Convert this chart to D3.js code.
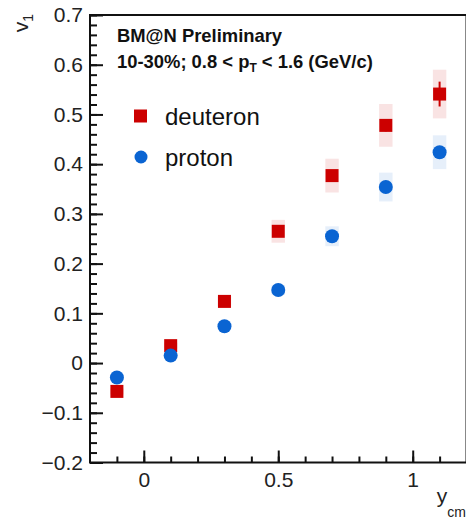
<!DOCTYPE html>
<html>
<head>
<meta charset="utf-8">
<script src="https://cdn.jsdelivr.net/npm/d3@7"></script>
<style>
  body { margin: 0; background: #fff; }
  svg { display: block; font-family: "Liberation Sans", Arial, Helvetica, sans-serif; }
</style>
</head>
<body>
<svg id="chart" width="466" height="521"></svg>
<script>
// rapidity bins
const ycm = [-0.1, 0.1, 0.3, 0.5, 0.7, 0.9, 1.1];

// deuteron v1
const deuteronV1   = [-0.057, 0.035, 0.124, 0.265, 0.377, 0.478, 0.541];
const deuteronStat = [0.004, 0.004, 0.005, 0.006, 0.01, 0.012, 0.025];
const deuteronSys  = [0.006, 0.006, 0.01, 0.023, 0.034, 0.043, 0.049];

// proton v1
const protonV1   = [-0.029, 0.015, 0.074, 0.147, 0.255, 0.354, 0.424];
const protonStat = [0.003, 0.003, 0.003, 0.003, 0.004, 0.005, 0.006];
const protonSys  = [0.004, 0.004, 0.006, 0.01, 0.02, 0.029, 0.034];

const xMajor = [0, 0.5, 1];
const yMajor = [-0.2, -0.1, 0, 0.1, 0.2, 0.3, 0.4, 0.5, 0.6, 0.7];

const red = "#cc0000", blue = "#0a64d2";

const svg = d3.select("#chart");
const margin = {top: 15, right: 0, bottom: 58.5, left: 90};
const W = 466, H = 521;

const x = d3.scaleLinear().domain([-0.2, 1.2]).range([margin.left, W - margin.right + 0.5]);
const y = d3.scaleLinear().domain([-0.2, 0.7]).range([H - margin.bottom, margin.top]);

// points with stat bars and systematic boxes
function series(vals, stat, sys, color, boxColor, shape) {
  const g = svg.append("g");
  const data = ycm.map((d, i) => ({x: d, v: vals[i], st: stat[i], sy: sys[i]}));
  g.selectAll("rect.sys").data(data).enter().append("rect")
    .attr("class", "sys")
    .attr("x", d => x(d.x - 0.025))
    .attr("width", d => x(d.x + 0.025) - x(d.x - 0.025))
    .attr("y", d => y(d.v + d.sy))
    .attr("height", d => y(d.v - d.sy) - y(d.v + d.sy))
    .attr("fill", boxColor);
  g.selectAll("line.stat").data(data).enter().append("line")
    .attr("x1", d => x(d.x)).attr("x2", d => x(d.x))
    .attr("y1", d => y(d.v + d.st)).attr("y2", d => y(d.v - d.st))
    .attr("stroke", color).attr("stroke-width", 2);
  if (shape === "square") {
    g.selectAll("rect.pt").data(data).enter().append("rect")
      .attr("x", d => x(d.x) - 6.5).attr("y", d => y(d.v) - 6.5)
      .attr("width", 13).attr("height", 13).attr("fill", color);
  } else {
    g.selectAll("circle").data(data).enter().append("circle")
      .attr("cx", d => x(d.x)).attr("cy", d => y(d.v)).attr("r", 7)
      .attr("fill", color);
  }
}
series(deuteronV1, deuteronStat, deuteronSys, red, "rgba(204,0,0,0.11)", "square");
series(protonV1, protonStat, protonSys, blue, "rgba(10,100,210,0.10)", "circle");

// frame
svg.append("rect")
  .attr("x", margin.left).attr("y", margin.top)
  .attr("width", x.range()[1] - margin.left)
  .attr("height", y.range()[0] - margin.top)
  .attr("fill", "none").attr("stroke", "#111").attr("stroke-width", 2);

// y axis
const yAxis = svg.append("g").attr("transform", `translate(${margin.left},0)`);
yAxis.call(d3.axisLeft(y).tickValues(d3.range(-0.2, 0.7001, 0.02)).tickSize(-7).tickFormat(""));
yAxis.append("g").call(d3.axisLeft(y).tickValues(yMajor).tickSize(-13).tickPadding(7).tickFormat(d3.format(".1~f")));
yAxis.selectAll(".domain").remove();
yAxis.selectAll("line").attr("stroke", "#111").attr("stroke-width", 2);
yAxis.selectAll("text").attr("font-size", 21).attr("fill", "#222");

// x axis
const xAxis = svg.append("g").attr("transform", `translate(0,${y.range()[0]})`);
xAxis.call(d3.axisBottom(x).tickValues(d3.range(-0.1, 1.2, 0.1)).tickSize(-6).tickFormat(""));
xAxis.append("g").call(d3.axisBottom(x).tickValues(xMajor).tickSize(-12).tickPadding(10).tickFormat(d3.format("~g")));
xAxis.selectAll(".domain").remove();
xAxis.selectAll("line").attr("stroke", "#111").attr("stroke-width", 2);
xAxis.selectAll("text").attr("font-size", 21).attr("fill", "#222");

// axis titles
const yt = svg.append("text")
  .attr("transform", "translate(28,14) rotate(-90)")
  .attr("text-anchor", "end").attr("font-size", 21).attr("fill", "#222");
yt.append("tspan").text("v");
yt.append("tspan").attr("font-size", 14).attr("dy", 5).text("1");

const xt = svg.append("text")
  .attr("x", 466).attr("y", 503)
  .attr("text-anchor", "end").attr("font-size", 21).attr("fill", "#222");
xt.append("tspan").text("y");
xt.append("tspan").attr("font-size", 14).attr("dy", 14).text("cm");

// labels
svg.append("text").attr("x", 117).attr("y", 42)
  .attr("font-size", 18.4).attr("font-weight", "bold").attr("fill", "#111")
  .text("BM@N Preliminary");
const sub = svg.append("text").attr("x", 117).attr("y", 68)
  .attr("font-size", 18.4).attr("font-weight", "bold").attr("fill", "#111");
sub.append("tspan").text("10-30%; 0.8 < p");
sub.append("tspan").attr("font-size", 12).attr("dy", 4).text("T");
sub.append("tspan").attr("dy", -4).text(" < 1.6 (GeV/c)");

// legend
const legend = [
  {name: "deuteron", color: red, shape: "square"},
  {name: "proton", color: blue, shape: "circle"}
];
const lg = svg.append("g");
legend.forEach((d, i) => {
  const cy = 116 + i * 41;
  if (d.shape === "square") {
    lg.append("rect").attr("x", 134).attr("y", cy - 6.5).attr("width", 13).attr("height", 13).attr("fill", d.color);
  } else {
    lg.append("circle").attr("cx", 141).attr("cy", cy).attr("r", 6.5).attr("fill", d.color);
  }
  lg.append("text").attr("x", 165).attr("y", cy + 9)
    .attr("font-size", 24).attr("fill", "#111").text(d.name);
});
</script>
</body>
</html>
